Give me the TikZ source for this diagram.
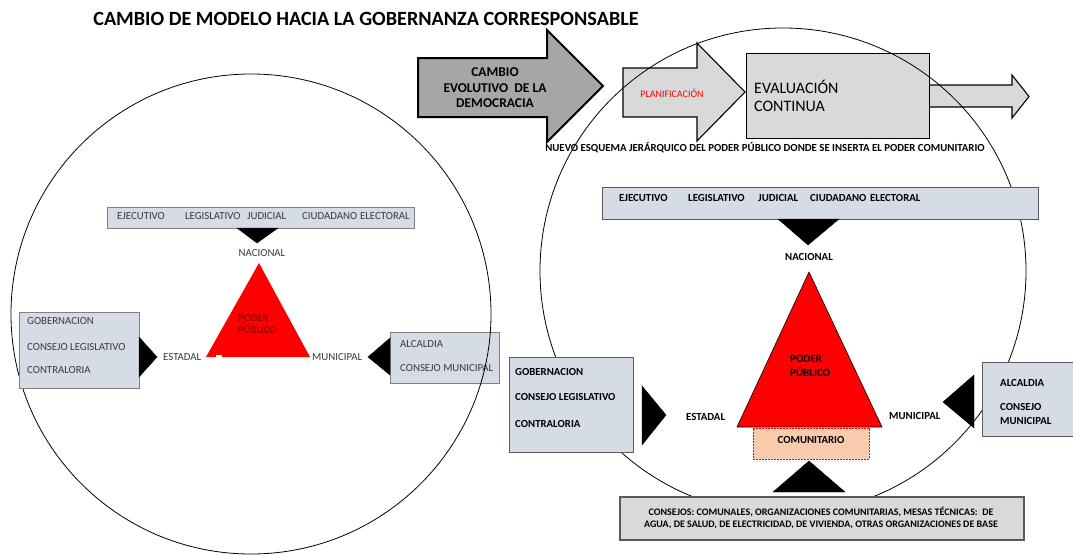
\documentclass[tikz,border=0pt]{standalone}
\usepackage{fontspec}
\setmainfont{Carlito}
\definecolor{boxblue}{HTML}{D6DCE5}
\definecolor{boxedge}{HTML}{595959}
\definecolor{lgray}{HTML}{D9D9D9}
\definecolor{dgray}{HTML}{A6A6A6}
\definecolor{peach}{HTML}{F8CBAD}
\definecolor{ltext}{HTML}{3A3A3A}
\definecolor{dred}{HTML}{9C0000}
\begin{document}
\begin{tikzpicture}[x=1pt,y=-1pt,
  rb/.style={font=\fontsize{10.8}{13}\selectfont\bfseries, inner sep=0, anchor=base west},
  lt/.style={font=\fontsize{10.8}{13}\selectfont, text=ltext, inner sep=0, anchor=base west},
  bbox/.style={draw=boxedge, fill=boxblue, line width=1pt, inner sep=0, anchor=north west},
  gbox/.style={draw=black, fill=lgray, line width=1.1pt, inner sep=0, anchor=north west},
  tri/.style={fill=black, draw=black},
  ring/.style={draw=black, line width=0.8pt},
]
\path[use as bounding box] (0,0) rectangle (1073,554);

% ---------- title ----------
\node[font=\fontsize{20.2}{24}\selectfont\bfseries, inner sep=0, anchor=base] (title) at (366,25.5) {CAMBIO DE MODELO HACIA LA GOBERNANZA CORRESPONSABLE};

% ---------- top arrows ----------
\draw[line width=2pt, fill=dgray, line join=miter] (418,58) -- (547,58) -- (547,30) -- (603,86) -- (547,142) -- (547,117) -- (418,117) -- cycle;
\node[font=\fontsize{13.5}{15.5}\selectfont\bfseries, align=center, inner sep=0] (cambio) at (495,88) {CAMBIO\\EVOLUTIVO~~DE LA\\DEMOCRACIA};

\draw[line width=1.1pt, fill=lgray, line join=miter] (920,85) -- (1012,85) -- (1012,75) -- (1029,96.5) -- (1012,118) -- (1012,107) -- (920,107) -- cycle;
\draw[line width=1.1pt, fill=lgray, line join=miter] (623,68) -- (697,68) -- (697,43) -- (745,92) -- (697,141) -- (697,117) -- (623,117) -- cycle;
\node[font=\fontsize{10}{12}\selectfont, text=red, inner sep=0] (plan) at (672,93) {PLANIFICACIÓN};
\node[gbox, minimum width=183pt, minimum height=85pt] (eval) at (746,53) {};
\node[font=\fontsize{16}{18}\selectfont, inner sep=0, anchor=base west] (evalt1) at (754,93) {EVALUACIÓN};
\node[font=\fontsize{16}{18}\selectfont, inner sep=0, anchor=base west] (evalt2) at (754,111) {CONTINUA};

% ---------- right circle ----------
\draw[ring] (783,271) circle[radius=243];

\node[font=\fontsize{10.8}{12}\selectfont\bfseries, inner sep=0, anchor=base] (nuevo) at (765,151.5) {NUEVO ESQUEMA JERÁRQUICO DEL PODER PÚBLICO DONDE SE INSERTA EL PODER COMUNITARIO};

% ---------- right scheme ----------
\node[bbox, minimum width=436pt, minimum height=32pt] (rexec) at (602,187) {};
\node[rb] (rexect) at (619,201.5) {\makebox[69pt][l]{EJECUTIVO}\makebox[70pt][l]{LEGISLATIVO}\makebox[52pt][l]{JUDICIAL}\makebox[60pt][l]{CIUDADANO}ELECTORAL};
\fill[tri] (778,219) -- (839,219) -- (808,245) -- cycle;
\node[rb, anchor=base] (rnac) at (809,260.5) {NACIONAL};

\fill[red, draw=black, line width=0.6pt] (809,272) -- (882,427) -- (737,427) -- cycle;
\node[font=\fontsize{11}{14}\selectfont\bfseries, inner sep=0, anchor=base west] (rpod1) at (790,362.5) {PODER};
\node[font=\fontsize{11}{14}\selectfont\bfseries, inner sep=0, anchor=base west] (rpod2) at (790,376.5) {PÚBLICO};

\node[draw=red, dash pattern=on 2pt off 1pt, fill=peach, line width=0.7pt, inner sep=0, anchor=north west, minimum width=116pt, minimum height=31pt] (comu) at (753,428) {};
\node[rb, anchor=base] (comut) at (811,443.5) {COMUNITARIO};
\fill[tri] (809,461) -- (845,492) -- (773,492) -- cycle;

\node[draw=boxedge, fill=lgray, line width=1.5pt, inner sep=0, anchor=north west, minimum width=404pt, minimum height=43pt] (cons) at (619,496) {};
\node[font=\fontsize{10}{12.5}\selectfont\bfseries, align=center, inner sep=0] (const) at (821,518) {CONSEJOS: COMUNALES, ORGANIZACIONES COMUNITARIAS, MESAS TÉCNICAS:~~DE\\AGUA, DE SALUD, DE ELECTRICIDAD, DE VIVIENDA, OTRAS ORGANIZACIONES DE BASE};

\node[bbox, minimum width=124pt, minimum height=95pt] (rgob) at (509,357) {};
\node[rb] (rgob1) at (515,375.5) {GOBERNACION};
\node[rb] (rgob2) at (515,400.5) {CONSEJO LEGISLATIVO};
\node[rb] (rgob3) at (515,427.5) {CONTRALORIA};
\fill[tri] (642,386) -- (666,415) -- (642,445) -- cycle;
\node[rb] (rest) at (686,420.5) {ESTADAL};
\node[rb] (rmun) at (889,419.5) {MUNICIPAL};
\fill[tri] (974,375) -- (943,402) -- (974,428) -- cycle;

\node[bbox, minimum width=92pt, minimum height=74pt] (ralc) at (982,362) {};
\node[rb] (ralc1) at (1000,386.5) {ALCALDIA};
\node[rb] (ralc2) at (1000,410.5) {CONSEJO};
\node[rb] (ralc3) at (1000,424.5) {MUNICIPAL};

% ---------- left scheme ----------
\node[bbox, line width=0.9pt, draw=gray, minimum width=307pt, minimum height=21pt] (lexec) at (107,207) {};
\node[lt] (lexect) at (117,219) {\makebox[68pt][l]{EJECUTIVO}\makebox[62pt][l]{LEGISLATIVO}\makebox[55pt][l]{JUDICIAL}\makebox[58pt][l]{CIUDADANO}ELECTORAL};
\fill[tri] (237,228) -- (278,228) -- (257,243) -- cycle;
\node[lt, anchor=base] (lnac) at (262,256.5) {NACIONAL};

\fill[red] (259,263) -- (310,357) -- (206,357) -- cycle;
\fill[white] (216,355) rectangle (222,362);
\node[font=\fontsize{10.5}{12}\selectfont\bfseries, text=dred, inner sep=0, anchor=base west] (lpod1) at (238,321.5) {PODER};
\node[font=\fontsize{10.5}{12}\selectfont\bfseries, text=dred, inner sep=0, anchor=base west] (lpod2) at (238,333.5) {PÚBLICO};

\node[bbox, draw=gray, line width=0.9pt, minimum width=109pt, minimum height=51pt] (lalc) at (390,332) {};
\node[lt] (lalc1) at (400,347.5) {ALCALDIA};
\node[lt] (lalc2) at (400,371.5) {CONSEJO MUNICIPAL};
\fill[tri] (390,338) -- (368,357) -- (390,375) -- cycle;
\node[lt] (lmun) at (312,360.5) {MUNICIPAL};

\draw[ring] (251,314) circle[radius=240];

\node[bbox, draw=gray, line width=0.9pt, minimum width=120pt, minimum height=76pt] (lgob) at (19,312) {};
\node[lt] (lgob1) at (27,324.5) {GOBERNACION};
\node[lt] (lgob2) at (27,350.5) {CONSEJO LEGISLATIVO};
\node[lt] (lgob3) at (27,373.5) {CONTRALORIA};
\fill[tri] (139,337) -- (157,357) -- (139,377) -- cycle;
\node[lt] (lest) at (163,360.5) {ESTADAL};
\end{tikzpicture}
\end{document}
